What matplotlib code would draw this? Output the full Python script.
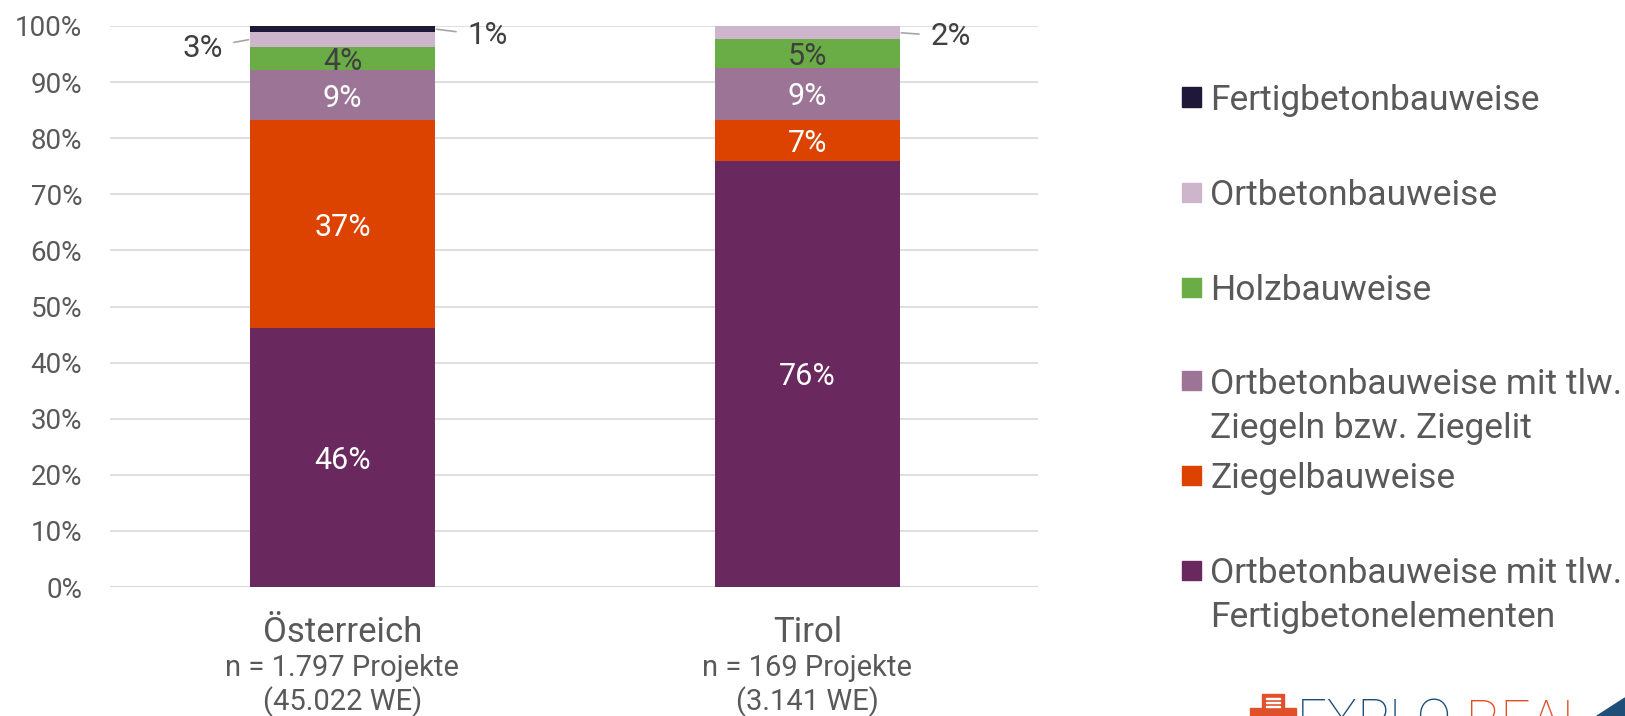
import matplotlib
matplotlib.use('Agg')
import matplotlib.pyplot as plt
from matplotlib.patches import Rectangle, Polygon
from matplotlib.transforms import blended_transform_factory

plt.rcParams['font.family'] = ['Roboto', 'DejaVu Sans']

# Data (shares in %)
categories = ['Österreich', 'Tirol']
sub_line1 = ['n = 1.797 Projekte', 'n = 169 Projekte']
sub_line2 = ['(45.022 WE)', '(3.141 WE)']
series_names = [
    ['Ortbetonbauweise mit tlw.', 'Fertigbetonelementen'],
    ['Ziegelbauweise'],
    ['Ortbetonbauweise mit tlw.', 'Ziegeln bzw. Ziegelit'],
    ['Holzbauweise'],
    ['Ortbetonbauweise'],
    ['Fertigbetonbauweise'],
]
ortbeton_fertig = [46.2, 76.0]
ziegel = [37.0, 7.2]
ortbeton_ziegel = [8.9, 9.4]
holz = [4.2, 5.0]
ortbeton = [2.6, 2.4]
fertig = [1.1, 0.0]
label_texts = [
    ['46%', '37%', '9%', '4%', '3%', '1%'],
    ['76%', '7%', '9%', '5%', '2%', ''],
]
colors = ['#6a295e', '#dc4300', '#9c7596', '#6aac46', '#cdb6cc', '#1f1838']
label_colors = ['white', 'white', 'white', '#404040', '#404040', '#404040']

series = [ortbeton_fertig, ziegel, ortbeton_ziegel, holz, ortbeton, fertig]
text_grey = '#595959'
W, H = 1625, 716


def fy(px):
    # pixel row from top -> figure fraction
    return 1 - px / H


def baseline_for(center_px, fs):
    # put the middle of the capitals on center_px
    return center_px + 0.5 * 0.711 * fs * 100 / 72


fig = plt.figure(figsize=(W / 100, H / 100), dpi=100)
ax = fig.add_axes([110 / W, fy(587), 928 / W, 561 / H])

x = list(range(len(categories)))
bar_w = 0.398
bottoms = [0.0] * len(categories)
for s_idx, vals in enumerate(series):
    ax.bar(x, vals, bar_w, bottom=bottoms, color=colors[s_idx], zorder=3)
    for i, v in enumerate(vals):
        txt = label_texts[i][s_idx]
        if txt and s_idx < 4:
            ax.text(x[i], bottoms[i] + v / 2, txt, ha='center', va='center_baseline',
                    fontsize=22, color=label_colors[s_idx], zorder=4)
    bottoms = [b + v for b, v in zip(bottoms, vals)]


# small segments labelled outside with leader lines
def outside_label(i, s_idx, side, dx, dy):
    base = sum(series[k][i] for k in range(s_idx))
    mid = base + series[s_idx][i] / 2
    txt = label_texts[i][s_idx]
    if side == 'left':
        xy = (x[i] - bar_w / 2, mid)
        xytext = (x[i] - bar_w / 2 - dx, mid + dy)
        ha = 'right'
    else:
        xy = (x[i] + bar_w / 2, mid)
        xytext = (x[i] + bar_w / 2 + dx, mid + dy)
        ha = 'left'
    ax.annotate(txt, xy=xy, xytext=xytext, ha=ha, va='center_baseline', fontsize=22.5,
                color='#404040',
                arrowprops=dict(arrowstyle='-', color='#a6a6a6', lw=1.2,
                                shrinkA=6, shrinkB=1))


outside_label(0, 4, 'left', 0.058, -1.0)
outside_label(0, 5, 'right', 0.069, -0.6)
outside_label(1, 4, 'right', 0.065, -0.1)

ax.set_xlim(-0.5, 1.496)
ax.set_ylim(0, 100)
ax.set_yticks(range(0, 101, 10))
ax.set_yticklabels([f'{t}%' for t in range(0, 101, 10)], fontsize=20, color=text_grey)
ax.yaxis.grid(True, color='#d9d9d9', lw=1.2, zorder=0)
ax.tick_params(axis='y', length=0, pad=20)
ax.set_xticks([])
for sp in ax.spines.values():
    sp.set_visible(False)
ax.axhline(0, color='#d9d9d9', lw=1.5, zorder=2)

# category labels and sample sizes under the bars
tr = blended_transform_factory(ax.transData, fig.transFigure)
for i, cat in enumerate(categories):
    ax.text(x[i], fy(baseline_for(630, 25)), cat, transform=tr, ha='center',
            va='baseline', fontsize=25, color=text_grey)
    ax.text(x[i], fy(baseline_for(666, 21)), sub_line1[i], transform=tr, ha='center',
            va='baseline', fontsize=21, color=text_grey)
    ax.text(x[i], fy(baseline_for(700, 21)), sub_line2[i], transform=tr, ha='center',
            va='baseline', fontsize=21, color=text_grey)

# legend, drawn as a custom list like the original
legend_order = [5, 4, 3, 2, 1, 0]
legend_centers = [97, 192, 287, 381, 475, 570]
line_gap = 44
leg_fs = 25.5
for s_idx, cy in zip(legend_order, legend_centers):
    fig.patches.append(Rectangle((1182 / W, fy(cy + 9.5)), 19 / W, 19 / H,
                                 transform=fig.transFigure, color=colors[s_idx]))
    for j, line in enumerate(series_names[s_idx]):
        fig.text(1210 / W, fy(baseline_for(cy + j * line_gap, leg_fs)), line,
                 ha='left', va='baseline', fontsize=leg_fs, color=text_grey)

# logo, cut off at the bottom edge like the original
logo_orange = '#e0502a'
logo_blue = '#1f4e79'
fig.patches.append(Rectangle((1262 / W, fy(716)), 22 / W, 22 / H,
                             transform=fig.transFigure, color=logo_orange))
fig.patches.append(Rectangle((1250 / W, fy(716)), 46 / W, 8 / H,
                             transform=fig.transFigure, color=logo_orange))
for k in range(3):
    fig.patches.append(Rectangle((1266 / W, fy(699 + 4 * k)), 14 / W, 1.5 / H,
                                 transform=fig.transFigure, color='white'))
fig.text(1297 / W, fy(738), 'EXPLO', ha='left', va='baseline', fontsize=38,
         fontweight='light', color=logo_blue)
fig.text(1466 / W, fy(738), 'REAL', ha='left', va='baseline', fontsize=38,
         fontweight='light', color=logo_orange)
fig.patches.append(Polygon([(1597 / W, fy(716)), (1625 / W, fy(698)), (1625 / W, fy(716))],
                           closed=True, transform=fig.transFigure, color=logo_blue))

fig.savefig('out.png', dpi=100)
